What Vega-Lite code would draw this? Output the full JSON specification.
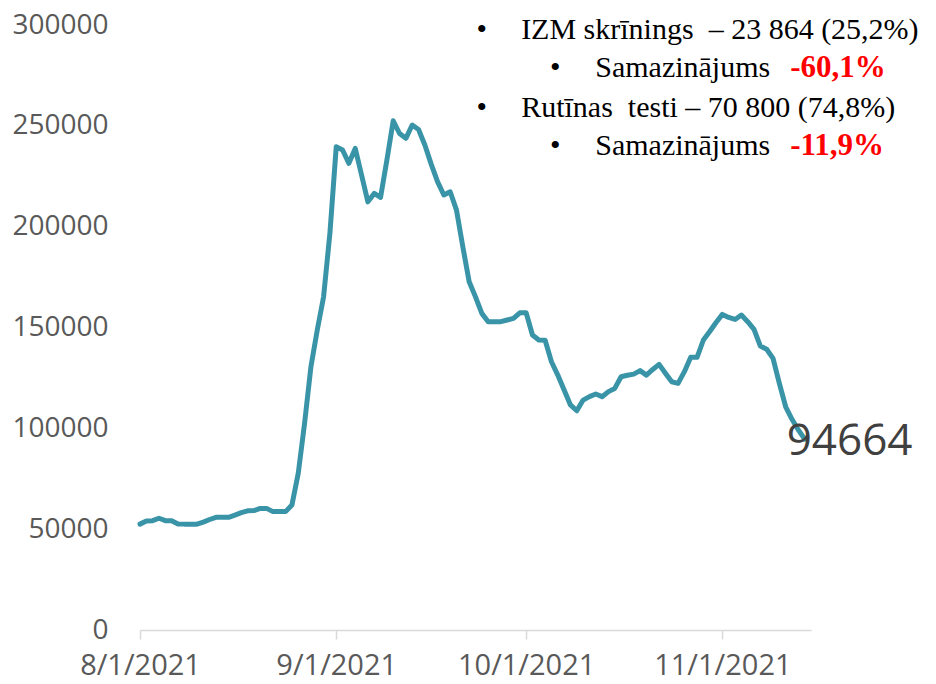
{
  "$schema": "https://vega.github.io/schema/vega-lite/v6.json",
  "autosize": "none",
  "width": 671,
  "height": 605,
  "padding": {"left": 140, "top": 25, "right": 125, "bottom": 54},
  "background": "white",
  "config": {"view": {"stroke": null}},
  "datasets": {
    "main": [
      {"date": "2021-08-01T00:00", "value": 52500},
      {"date": "2021-08-02T00:00", "value": 54000},
      {"date": "2021-08-03T00:00", "value": 54200},
      {"date": "2021-08-04T00:00", "value": 55400},
      {"date": "2021-08-05T00:00", "value": 54200},
      {"date": "2021-08-06T00:00", "value": 54200},
      {"date": "2021-08-07T00:00", "value": 52600},
      {"date": "2021-08-08T00:00", "value": 52500},
      {"date": "2021-08-09T00:00", "value": 52500},
      {"date": "2021-08-10T00:00", "value": 52500},
      {"date": "2021-08-11T00:00", "value": 53500},
      {"date": "2021-08-12T00:00", "value": 54800},
      {"date": "2021-08-13T00:00", "value": 55900},
      {"date": "2021-08-14T00:00", "value": 55900},
      {"date": "2021-08-15T00:00", "value": 55900},
      {"date": "2021-08-16T00:00", "value": 57000},
      {"date": "2021-08-17T00:00", "value": 58200},
      {"date": "2021-08-18T00:00", "value": 59100},
      {"date": "2021-08-19T00:00", "value": 59200},
      {"date": "2021-08-20T00:00", "value": 60300},
      {"date": "2021-08-21T00:00", "value": 60300},
      {"date": "2021-08-22T00:00", "value": 58700},
      {"date": "2021-08-23T00:00", "value": 58700},
      {"date": "2021-08-24T00:00", "value": 58700},
      {"date": "2021-08-25T00:00", "value": 62000},
      {"date": "2021-08-26T00:00", "value": 77700},
      {"date": "2021-08-27T00:00", "value": 102500},
      {"date": "2021-08-28T00:00", "value": 130500},
      {"date": "2021-08-29T00:00", "value": 148700},
      {"date": "2021-08-30T00:00", "value": 165200},
      {"date": "2021-08-31T00:00", "value": 196700},
      {"date": "2021-09-01T00:00", "value": 239600},
      {"date": "2021-09-02T00:00", "value": 238000},
      {"date": "2021-09-03T00:00", "value": 231400},
      {"date": "2021-09-04T00:00", "value": 238800},
      {"date": "2021-09-05T00:00", "value": 225600},
      {"date": "2021-09-06T00:00", "value": 212300},
      {"date": "2021-09-07T00:00", "value": 216500},
      {"date": "2021-09-08T00:00", "value": 214500},
      {"date": "2021-09-09T00:00", "value": 233000},
      {"date": "2021-09-10T00:00", "value": 252500},
      {"date": "2021-09-11T00:00", "value": 246200},
      {"date": "2021-09-12T00:00", "value": 243800},
      {"date": "2021-09-13T00:00", "value": 250400},
      {"date": "2021-09-14T00:00", "value": 248200},
      {"date": "2021-09-15T00:00", "value": 240500},
      {"date": "2021-09-16T00:00", "value": 231000},
      {"date": "2021-09-17T00:00", "value": 222300},
      {"date": "2021-09-18T00:00", "value": 215700},
      {"date": "2021-09-19T00:00", "value": 217300},
      {"date": "2021-09-20T00:00", "value": 208200},
      {"date": "2021-09-21T00:00", "value": 190000},
      {"date": "2021-09-22T00:00", "value": 172700},
      {"date": "2021-09-23T00:00", "value": 165200},
      {"date": "2021-09-24T00:00", "value": 157000},
      {"date": "2021-09-25T00:00", "value": 152900},
      {"date": "2021-09-26T00:00", "value": 152900},
      {"date": "2021-09-27T00:00", "value": 152900},
      {"date": "2021-09-28T00:00", "value": 153700},
      {"date": "2021-09-29T00:00", "value": 154500},
      {"date": "2021-09-30T00:00", "value": 157300},
      {"date": "2021-10-01T00:00", "value": 157300},
      {"date": "2021-10-02T00:00", "value": 146300},
      {"date": "2021-10-03T00:00", "value": 143800},
      {"date": "2021-10-04T00:00", "value": 143700},
      {"date": "2021-10-05T00:00", "value": 133000},
      {"date": "2021-10-06T00:00", "value": 126400},
      {"date": "2021-10-07T00:00", "value": 119000},
      {"date": "2021-10-08T00:00", "value": 111600},
      {"date": "2021-10-09T00:00", "value": 108700},
      {"date": "2021-10-10T00:00", "value": 114000},
      {"date": "2021-10-11T00:00", "value": 115700},
      {"date": "2021-10-12T00:00", "value": 117000},
      {"date": "2021-10-13T00:00", "value": 115700},
      {"date": "2021-10-14T00:00", "value": 118200},
      {"date": "2021-10-15T00:00", "value": 119800},
      {"date": "2021-10-16T00:00", "value": 125600},
      {"date": "2021-10-17T00:00", "value": 126300},
      {"date": "2021-10-18T00:00", "value": 126900},
      {"date": "2021-10-19T00:00", "value": 128600},
      {"date": "2021-10-20T00:00", "value": 126400},
      {"date": "2021-10-21T00:00", "value": 129200},
      {"date": "2021-10-22T00:00", "value": 131700},
      {"date": "2021-10-23T00:00", "value": 127300},
      {"date": "2021-10-24T00:00", "value": 123100},
      {"date": "2021-10-25T00:00", "value": 122300},
      {"date": "2021-10-26T00:00", "value": 128100},
      {"date": "2021-10-27T00:00", "value": 135200},
      {"date": "2021-10-28T00:00", "value": 135200},
      {"date": "2021-10-29T00:00", "value": 143800},
      {"date": "2021-10-30T00:00", "value": 148000},
      {"date": "2021-10-31T00:00", "value": 152500},
      {"date": "2021-11-01T00:00", "value": 156500},
      {"date": "2021-11-02T00:00", "value": 155000},
      {"date": "2021-11-03T00:00", "value": 154000},
      {"date": "2021-11-04T00:00", "value": 156200},
      {"date": "2021-11-05T00:00", "value": 152900},
      {"date": "2021-11-06T00:00", "value": 149100},
      {"date": "2021-11-07T00:00", "value": 140800},
      {"date": "2021-11-08T00:00", "value": 139200},
      {"date": "2021-11-09T00:00", "value": 134700},
      {"date": "2021-11-10T00:00", "value": 122300},
      {"date": "2021-11-11T00:00", "value": 110700},
      {"date": "2021-11-12T00:00", "value": 104500},
      {"date": "2021-11-13T00:00", "value": 99200},
      {"date": "2021-11-14T00:00", "value": 94664}
    ],
    "notes": [
      {"date": "2021-09-24T00:00", "value": 293000, "text": "•", "kind": "bullet"},
      {"date": "2021-09-30T05:00", "value": 293000, "text": "IZM skrīnings\u00a0 – 23 864 (25,2%)", "kind": "plain"},
      {"date": "2021-10-05T14:00", "value": 274200, "text": "•", "kind": "bullet"},
      {"date": "2021-10-11T22:00", "value": 274200, "text": "Samazinājums", "kind": "plain"},
      {"date": "2021-11-11T17:00", "value": 274200, "text": "-60,1%", "kind": "red"},
      {"date": "2021-09-24T00:00", "value": 254400, "text": "•", "kind": "bullet"},
      {"date": "2021-09-30T05:00", "value": 254400, "text": "Rutīnas\u00a0 testi – 70 800 (74,8%)", "kind": "plain"},
      {"date": "2021-10-05T14:00", "value": 235500, "text": "•", "kind": "bullet"},
      {"date": "2021-10-11T22:00", "value": 235500, "text": "Samazinājums", "kind": "plain"},
      {"date": "2021-11-11T17:00", "value": 235500, "text": "-11,9%", "kind": "red"}
    ]
  },
  "encoding": {
    "x": {
      "field": "date",
      "type": "temporal",
      "scale": {"domain": [{"year": 2021, "month": 8, "date": 1}, {"year": 2021, "month": 11, "date": 15}]},
      "axis": {
        "title": null,
        "values": [{"year": 2021, "month": 8, "date": 1}, {"year": 2021, "month": 9, "date": 1}, {"year": 2021, "month": 10, "date": 1}, {"year": 2021, "month": 11, "date": 1}],
        "format": "%-m/%-d/%Y",
        "grid": false,
        "domainColor": "#d9d9d9",
        "domainWidth": 1.5,
        "tickColor": "#d9d9d9",
        "tickWidth": 1.5,
        "tickSize": 9,
        "labelFont": "Open Sans",
        "labelFontSize": 29,
        "labelColor": "#595959",
        "labelPadding": 12,
        "labelFlush": false,
        "labelOverlap": false
      }
    },
    "y": {
      "field": "value",
      "type": "quantitative",
      "scale": {"domain": [0, 300000], "nice": false},
      "axis": {
        "title": null,
        "values": [0, 50000, 100000, 150000, 200000, 250000, 300000],
        "format": "d",
        "grid": false,
        "domain": false,
        "ticks": false,
        "labelFont": "Open Sans",
        "labelFontSize": 28,
        "labelColor": "#595959",
        "labelPadding": 32,
        "labelFlush": false,
        "labelOverlap": false
      }
    }
  },
  "layer": [
    {
      "data": {"name": "main"},
      "mark": {"type": "line", "color": "#3A94A8", "strokeWidth": 5, "strokeJoin": "round", "strokeCap": "round", "clip": false}
    },
    {
      "data": {"name": "main"},
      "transform": [{"filter": "datum.value == 94664"}],
      "mark": {"type": "text", "align": "left", "baseline": "alphabetic", "dx": -18, "dy": 16, "font": "Open Sans", "fontSize": 44, "color": "#404040"},
      "encoding": {"text": {"field": "value", "type": "quantitative", "format": "d"}}
    },
    {
      "data": {"name": "notes"},
      "transform": [{"filter": "datum.kind == 'bullet'"}],
      "mark": {"type": "text", "align": "center", "baseline": "alphabetic", "font": "Liberation Serif", "fontSize": 30, "color": "black"},
      "encoding": {"text": {"field": "text"}}
    },
    {
      "data": {"name": "notes"},
      "transform": [{"filter": "datum.kind == 'plain'"}],
      "mark": {"type": "text", "align": "left", "baseline": "alphabetic", "font": "Liberation Serif", "fontSize": 30, "color": "black"},
      "encoding": {"text": {"field": "text"}}
    },
    {
      "data": {"name": "notes"},
      "transform": [{"filter": "datum.kind == 'red'"}],
      "mark": {"type": "text", "align": "left", "baseline": "alphabetic", "font": "Liberation Serif", "fontSize": 31, "fontWeight": "bold", "color": "#ff0000"},
      "encoding": {"text": {"field": "text"}}
    }
  ]
}
